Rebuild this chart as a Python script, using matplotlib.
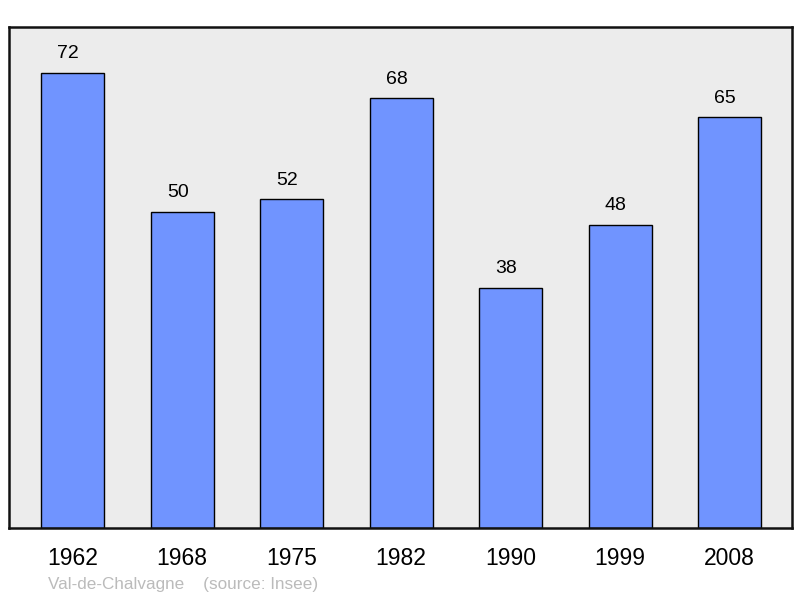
import matplotlib.pyplot as plt

plt.rcParams['font.family'] = ['Liberation Sans', 'DejaVu Sans']

# Population by census year
years = ['1962', '1968', '1975', '1982', '1990', '1999', '2008']
population = [72, 50, 52, 68, 38, 48, 65]
town = 'Val-de-Chalvagne'

fig = plt.figure(figsize=(8, 5.98), dpi=100)
ax = fig.add_axes([9 / 800, 70 / 598, 783 / 800, 501 / 598])
ax.set_facecolor('#ececec')

x = range(len(years))
ax.bar(x, population, width=0.575, color='#7094ff',
       edgecolor='black', linewidth=1.0)

# value labels sit slightly left of bar centres in the original
for xi, v in zip(x, population):
    ax.text(xi - 0.04, v + 1.7, str(v), ha='center', va='bottom', fontsize=14)

ax.set_xlim(-0.58, 6.57)
ax.set_ylim(0, 79.3)
ax.set_yticks([])
ax.set_xticks(list(x))
ax.set_xticklabels(years, fontsize=16.5)
ax.tick_params(axis='x', length=0, pad=13.5)

for s in ax.spines.values():
    s.set_linewidth(1.8)
    s.set_color('#111111')

fig.text(48 / 800, 1 - 584 / 598, town + '    (source: Insee)',
         fontsize=12.3, color='#bbbbbb', ha='left', va='center')

fig.savefig('out.png', dpi=100)
